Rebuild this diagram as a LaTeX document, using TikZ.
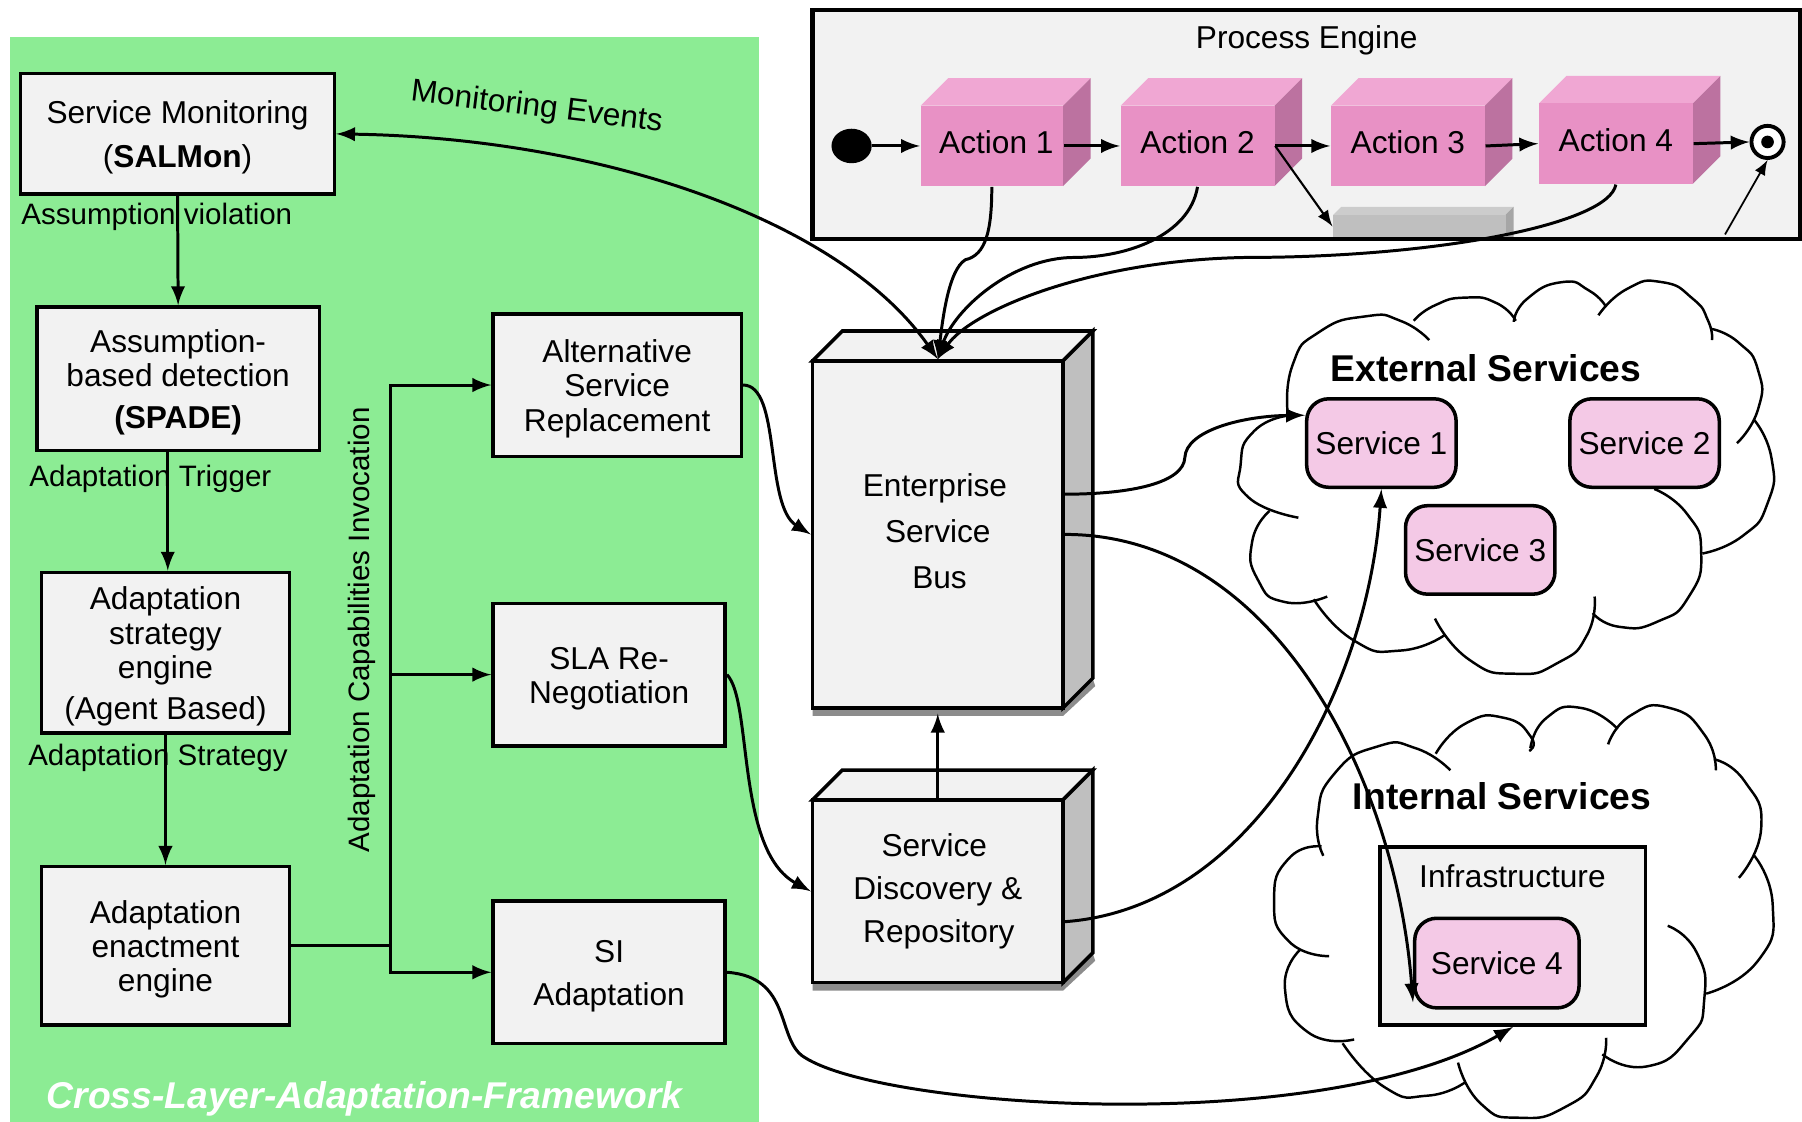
\documentclass[tikz,border=0pt]{standalone}
\usepackage{fontspec}
\setmainfont{Liberation Sans}
\usetikzlibrary{arrows,shapes,positioning}
\definecolor{panelgreen}{HTML}{8CEC94}
\definecolor{boxgrey}{HTML}{F2F2F2}
\definecolor{actfront}{HTML}{E891C5}
\definecolor{acttop}{HTML}{F0A7D3}
\definecolor{actside}{HTML}{BC72A0}
\definecolor{svcpink}{HTML}{F4C9E6}
\def\unitlen{0.1149mm}
\newcommand{\up}{\rule{0pt}{8.5pt}}

\begin{document}
\begin{tikzpicture}[x=0.1149mm,y=-0.1149mm]
  \fontsize{9}{9.8}\selectfont
  \tikzset{
    span/.style 2 args={minimum width=(#1)*\unitlen, minimum height=(#2)*\unitlen},
    block/.style={draw, line width=1pt, fill=boxgrey, align=center, inner sep=0pt},
    action/.style={fill=actfront, inner sep=0pt, execute at end node=\rule[-2pt]{0pt}{0pt}},
    service/.style={draw, line width=1pt, fill=svcpink, rounded corners=2.2mm, inner sep=0pt},
    tag/.style={font=\fontsize{8.4}{9}\selectfont, inner sep=0pt},
    title/.style={font=\fontsize{10.6}{12}\selectfont\bfseries, inner sep=0pt},
    link/.style={line width=0.85pt, -latex},
    curve/.style={line width=0.85pt, -latex},
    lobe/.style={line width=0.7pt},
    round plot/.style={smooth, tension=1},
  }
  \useasboundingbox (0,0) rectangle (1568,976);

  % Framework panel and the process engine behind everything.
  \fill[panelgreen] (9,32) rectangle (660,976);
  \fill[boxgrey] (707,9) rectangle (1566,208);
  \node[inner sep=0pt] (engine) at (1137,35) {Process Engine};

  % Left column.
  \node[block, span={273}{105}] (mon) at (154.5,116.5) {\up Service Monitoring\\[2.5pt](\textbf{SALMon})};
  \node[block, span={246}{125}] (det) at (155,329.5) {\up Assumption-\\based detection\\[2pt]\textbf{(SPADE)}};
  \node[block, span={216}{140}] (strat) at (144,568) {\up Adaptation\\strategy\\engine\\[1.8pt](Agent Based)};
  \node[block, span={216}{138}] (enact) at (144,823) {\up Adaptation\\enactment\\engine};

  % Adaptation capabilities.
  \node[block, span={216}{124}] (alt) at (537,335) {\up Alternative\\Service\\Replacement};
  \node[block, span={202}{124}] (sla) at (530,587) {\up SLA Re-\\Negotiation};
  \node[block, span={202}{124}] (si) at (530,846) {\up SI\\[2.5pt]Adaptation};

  \node[tag, anchor=west] (viol) at (18,189) {Assumption violation};
  \node[tag, anchor=west] (trig) at (25,417) {Adaptation Trigger};
  \node[tag, anchor=west] (strtag) at (24,659) {Adaptation Strategy};
  \node[tag, rotate=90] (capab) at (315,548) {Adaptation Capabilities Invocation};
  \node[tag, rotate=-7, font=\fontsize{9}{10}\selectfont] (events) at (467,94) {Monitoring Events};
  \node[title, anchor=west, text=white, font=\fontsize{10.6}{12}\selectfont\bfseries\itshape] (frame) at (40,956) {Cross-Layer-Adaptation-Framework};

  % Actions of the process.
  \foreach \nm/\xa/\xb/\ya/\yb/\txt in {act1/801/925/92/162/{\hspace*{2.6pt}Action 1},act2/975/1109/92/162/{Action 2},act3/1158/1292/92/162/{Action 3},act4/1339/1473/90/160/{Action 4}}{
    \fill[acttop] (\xa,\ya) -- (\xa+24,\ya-24) -- (\xb+24,\ya-24) -- (\xb,\ya) -- cycle;
    \fill[actside] (\xb,\ya) -- (\xb+24,\ya-24) -- (\xb+24,\yb-24) -- (\xb,\yb) -- cycle;
    \node[action, span={\xb-\xa}{\yb-\ya}] (\nm) at ({(\xa+\xb)/2},{(\ya+\yb)/2}) {\txt};
  }
  % Grey data store below the actions.
  \fill[black!20] (1160,187) -- (1167,180) -- (1317,180) -- (1310,187) -- cycle;
  \fill[black!35] (1310,187) -- (1317,180) -- (1317,207) -- (1310,207) -- cycle;
  \node[fill=black!25, inner sep=0pt, span={150}{20}] (store) at (1235,197) {};
  \draw[line width=1.2pt] (707,9) rectangle (1566,208);

  \node[ellipse, fill=black, inner sep=0pt, span={35}{30}] (start) at (741,127) {};
  \node[circle, draw, line width=1.1pt, fill=white, inner sep=0pt, span={28}{28}] (stop) at (1538,123.5) {};
  \node[circle, fill=black, inner sep=0pt, span={11}{11}] (stopdot) at (1538,123.5) {};
  \coordinate (stopfrom) at (1501,204);

  \draw[link] (start) -- (act1.west);
  \draw[link] (act1.east) -- (act2.west);
  \draw[link] (act2.east) -- (act3.west);
  \draw[link] (act3.east) -- (act4.west);
  \draw[link] (act4.east) -- (stop.west);
  \draw[link, line width=0.6pt] (act2.east) -- (store.west);
  \draw[link, line width=0.5pt] (stopfrom) -- (stop.south);

  % Bus and repository.
  \foreach \nm/\ya/\yb/\txt in {esb/314/616/{Enterprise\hspace*{1.6pt}\\[3.2pt]Service\hspace*{1.6pt}\\[3.2pt]\hspace*{1pt}Bus\rule[-2pt]{0pt}{0pt}},sdr/696/855/{Service\hspace*{2pt}\\[2.4pt]Discovery \&\hspace*{2pt}\\[2.4pt]\hspace*{0.6pt}Repository}}{
    \fill[black!45] (707,\yb) -- (925,\yb) -- (951,\yb-25) -- (953,\yb-19) -- (925,\yb+7) -- (707,\yb+7) -- cycle;
    \draw[line width=1pt, fill=black!5] (707,\ya) -- (733,\ya-26) -- (951,\ya-26) -- (925,\ya) -- cycle;
    \draw[line width=1pt, fill=black!25] (925,\ya) -- (951,\ya-26) -- (951,\yb-26) -- (925,\yb) -- cycle;
    \node[block, span={218}{\yb-\ya}] (\nm) at (816,{(\ya+\yb)/2}) {\txt};
  }

  % External services cloud.
  \begin{scope}[shift={(1044.4,226.3)},x=0.03846mm,y=-0.05515mm]
    \draw[lobe] plot[round plot] coordinates {(228,282) (240,190) (310,130) (430,102) (520,110) (595,145)};
    \draw[lobe] plot[round plot] coordinates {(555,110) (610,82) (690,68) (770,78) (820,110)};
    \draw[lobe] plot[round plot] coordinates {(815,112) (850,70) (940,40) (1010,55) (1055,85)};
    \draw[lobe] plot[round plot] coordinates {(1035,100) (1110,52) (1200,40) (1280,70) (1320,110) (1330,145)};
    \draw[lobe] plot[round plot] coordinates {(1330,125) (1400,150) (1450,200) (1450,270) (1395,332)};
    \draw[lobe] plot[round plot] coordinates {(1440,290) (1485,360) (1475,440) (1410,500) (1305,532)};
    \draw[lobe] plot[round plot] coordinates {(1180,415) (1265,460) (1302,530) (1270,610) (1190,655) (1090,665) (1020,640)};
    \draw[lobe] plot[round plot] coordinates {(1025,610) (1005,680) (930,730) (820,750) (700,725) (610,650)};
    \draw[lobe] plot[round plot] coordinates {(635,680) (520,708) (400,690) (295,615)};
    \draw[lobe] plot[round plot] coordinates {(180,455) (135,510) (150,580) (220,620) (330,610)};
    \draw[lobe] plot[round plot] coordinates {(228,282) (140,310) (105,370) (125,430) (255,467)};
  \end{scope}

  % Internal services cloud.
  \begin{scope}[shift={(1044.4,226.3)},x=0.03846mm,y=-0.05515mm]
    \draw[lobe] plot[round plot] coordinates {(320,1080) (305,1010) (350,930) (460,882) (560,885) (650,925)};
    \draw[lobe] plot[round plot] coordinates {(612,895) (690,840) (790,830) (860,865) (855,890)};
    \draw[lobe] plot[round plot] coordinates {(858,885) (900,830) (990,812) (1085,850)};
    \draw[lobe] plot[round plot] coordinates {(1060,878) (1120,825) (1220,812) (1310,860) (1340,925)};
    \draw[lobe] plot[round plot] coordinates {(1335,905) (1415,945) (1458,1030) (1400,1120)};
    \draw[lobe] plot[round plot] coordinates {(1440,1080) (1488,1170) (1450,1270) (1315,1330)};
    \draw[lobe] plot[round plot] coordinates {(1215,1207) (1290,1255) (1310,1340) (1270,1410) (1160,1462) (1045,1440)};
    \draw[lobe] plot[round plot] coordinates {(1055,1410) (1030,1480) (950,1535) (830,1555) (730,1530) (670,1455)};
    \draw[lobe] plot[round plot] coordinates {(690,1490) (590,1515) (480,1500) (370,1420)};
    \draw[lobe] plot[round plot] coordinates {(260,1250) (220,1320) (280,1400) (400,1413)};
    \draw[lobe] plot[round plot] coordinates {(315,1063) (230,1085) (192,1160) (230,1235) (335,1262)};
  \end{scope}

  \node[title] (external) at (1293,320) {External Services};
  \node[title] (internal) at (1307,693) {Internal Services};
  \node[service, span={130}{77}] (s1) at (1202,385.5) {Service 1};
  \node[service, span={130}{77}] (s2) at (1431,385.5) {Service 2};
  \node[service, span={130}{77}] (s3) at (1288,478.5) {Service 3};
  \node[draw, line width=1pt, fill=boxgrey, span={231}{155}] (infra) at (1316.5,814.5) {};
  \node[inner sep=0pt] (infratxt) at (1316,762) {Infrastructure};
  \node[service, span={143}{78}] (s4) at (1302.5,838) {Service 4};

  % Straight links on the left.
  \coordinate (fork) at (340,823);
  \draw[link] (mon.south) -- (det.north);
  \draw[link] (det.south -| 146,0) -- (strat.north -| 146,0);
  \draw[link] (strat.south) -- (enact.north);
  \draw[line width=0.85pt] (enact.east) -- (fork);
  \draw[link] (fork) |- (alt.west);
  \draw[link] (fork) |- (sla.west);
  \draw[link] (fork) |- (si.west);
  \draw[link, shorten >=0.4mm] (sdr.north) -- (esb.south);

  % Curved links.
  \draw[curve] (alt.east) .. controls (680,335) and (665,440) .. (esb.west);
  \draw[curve] (sla.east) .. controls (655,610) and (640,740) .. (sdr.west);
  \draw[curve] (si.east) .. controls (690,850) and (675,905) .. (700,920) .. controls (770,965) and (1150,990) .. (infra.south);
  \draw[curve] (esb.east |- 0,430) .. controls (985,430) and (1030,420) .. (1031,398) .. controls (1032,375) and (1080,362) .. (s1.160);
  \draw[curve] (esb.east |- 0,465) .. controls (1110,465) and (1215,680) .. (s4.205);
  \draw[curve] (sdr.east |- 0,802) .. controls (1090,790) and (1190,600) .. (s1.south);
  \draw[curve] (act1.south -| 863,0) .. controls (863,200) and (858,222) .. (840,226) .. controls (825,235) and (820,280) .. (esb.north);
  \draw[curve] (act2.south) .. controls (1035,205) and (980,224) .. (935,224) .. controls (880,224) and (830,270) .. (esb.north);
  \draw[curve] (act4.south) .. controls (1400,195) and (1250,224) .. (1085,224) .. controls (950,226) and (845,270) .. (esb.north);
  \draw[curve, latex-latex] (mon.east) .. controls (520,120) and (730,190) .. (esb.north);
\end{tikzpicture}
\end{document}
